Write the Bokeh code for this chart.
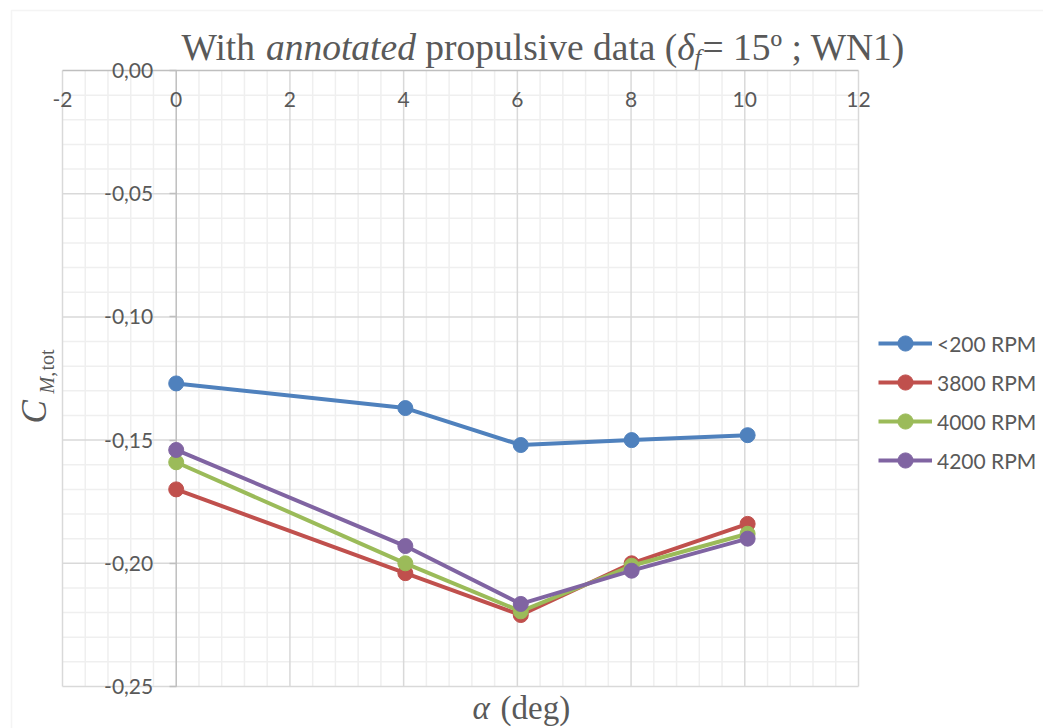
import numpy as np
from bokeh.plotting import figure
from bokeh.models import (Range1d, FixedTicker, Legend, LegendItem, Label, BoxAnnotation)
from bokeh.embed import file_html
from bokeh.resources import INLINE

# ---------------- data ----------------
series_names = ["<200 RPM", "3800 RPM", "4000 RPM", "4200 RPM"]
alpha_deg = [0.0, 4.03, 6.06, 8.01, 10.05]
cm_200 = [-0.127, -0.137, -0.152, -0.150, -0.148]
cm_3800 = [-0.170, -0.204, -0.221, -0.200, -0.184]
cm_4000 = [-0.159, -0.200, -0.2195, -0.201, -0.188]
cm_4200 = [-0.154, -0.193, -0.2165, -0.203, -0.190]
series_values = [cm_200, cm_3800, cm_4000, cm_4200]
colors = ["#4F81BD", "#C0504D", "#9BBB59", "#8064A2"]

x_ticks = [-2, 0, 2, 4, 6, 8, 10, 12]
x_tick_labels = ["-2", "0", "2", "4", "6", "8", "10", "12"]
x_minor_step = 0.4
y_ticks = [0.0, -0.05, -0.10, -0.15, -0.20, -0.25]
y_tick_labels = ["0,00", "-0,05", "-0,10", "-0,15", "-0,20", "-0,25"]
y_minor_step = 0.01

# ---------------- layout: plot area in page pixels ----------------
W, H = 1043, 728
FL, FT, FW, FH = 62, 70, 796, 616
XMIN, XMAX, YMIN, YMAX = -2, 12, -0.25, 0.0


def X(px):
    return XMIN + (px - FL) * (XMAX - XMIN) / FW


def Y(py):
    return YMAX - (py - FT) * (YMAX - YMIN) / FH


# the frame covers the whole page so nothing gets clipped
p = figure(width=W, height=H, title=None,
           x_range=Range1d(X(0), X(W)), y_range=Range1d(Y(H), Y(0)),
           output_backend="svg", toolbar_location=None,
           min_border=0, min_border_left=0, min_border_right=0,
           min_border_top=0, min_border_bottom=0,
           background_fill_color="white", border_fill_color="white")
p.outline_line_color = None
p.xgrid.visible = False
p.ygrid.visible = False

# ---------------- grid lines (drawn through the scales) ----------------
x_minor = [v for v in np.round(np.arange(XMIN, XMAX + 1e-9, x_minor_step), 4) if v not in x_ticks]
y_minor = [v for v in np.round(np.arange(YMIN, YMAX + 1e-9, y_minor_step), 4)
           if min(abs(v - t) for t in y_ticks) > 1e-9]

minor_c, major_c, axis_c = "#efefef", "#d9d9d9", "#bfbfbf"
p.segment(x0=x_minor, x1=x_minor, y0=[YMIN] * len(x_minor), y1=[YMAX] * len(x_minor),
          line_color=minor_c, line_width=1.5)
p.segment(x0=[XMIN] * len(y_minor), x1=[XMAX] * len(y_minor), y0=y_minor, y1=y_minor,
          line_color=minor_c, line_width=1.5)
xm = [t for t in x_ticks if t != 0]
ym = [t for t in y_ticks if t != 0]
p.segment(x0=xm, x1=xm, y0=[YMIN] * len(xm), y1=[YMAX] * len(xm),
          line_color=major_c, line_width=1.5)
p.segment(x0=[XMIN] * len(ym), x1=[XMAX] * len(ym), y0=ym, y1=ym,
          line_color=major_c, line_width=1.5)
# axis lines crossing at zero
p.segment(x0=[0, XMIN], x1=[0, XMAX], y0=[YMIN, 0], y1=[YMAX, 0],
          line_color=axis_c, line_width=1.5)

# ---------------- axes ----------------
p.xaxis.fixed_location = 0
p.yaxis.fixed_location = 0
p.xaxis.bounds = (XMIN, XMAX)
p.yaxis.bounds = (YMIN, YMAX)
p.xaxis.ticker = FixedTicker(ticks=x_ticks, minor_ticks=[])
p.yaxis.ticker = FixedTicker(ticks=y_ticks, minor_ticks=[])
p.xaxis.major_label_overrides = {t: l for t, l in zip(x_ticks, x_tick_labels)}
p.yaxis.major_label_overrides = {t: l for t, l in zip(y_ticks, y_tick_labels)}

for ax in (p.xaxis, p.yaxis):
    ax.axis_line_color = None
    ax.major_tick_line_color = axis_c
    ax.major_tick_line_width = 1.5
    ax.minor_tick_in = 0
    ax.minor_tick_out = 0
    ax.major_label_text_font = "Lato"
    ax.major_label_text_font_size = "21px"
    ax.major_label_text_color = "#595959"

p.xaxis.major_tick_in = 0
p.xaxis.major_tick_out = 0
p.xaxis.major_label_standoff = 21
p.yaxis.major_tick_in = 0
p.yaxis.major_tick_out = 7
p.yaxis.major_label_standoff = 16

# ---------------- series ----------------
items = []
for name, vals, c in zip(series_names, series_values, colors):
    ln = p.line(alpha_deg, vals, line_color=c, line_width=4)
    sc = p.scatter(alpha_deg, vals, size=15, fill_color=c, line_color=c)
    items.append(LegendItem(label=name, renderers=[ln, sc]))

legend = Legend(items=items, location=(878, 249))
legend.glyph_width = 54
legend.glyph_height = 38
legend.label_height = 20
legend.spacing = 1
legend.label_standoff = 5
legend.padding = 0
legend.margin = 0
legend.border_line_color = None
legend.background_fill_alpha = 0
legend.label_text_font = "Lato"
legend.label_text_font_size = "21px"
legend.label_text_color = "#595959"
p.add_layout(legend, "center")

# ---------------- outer chart border ----------------
p.add_layout(BoxAnnotation(left=X(11), right=X(1100), top=Y(10), bottom=Y(800),
                           fill_alpha=0, line_color="#d9d9d9", line_width=1.5))

# ---------------- title and axis titles (rich text via labels) ----------------
serif = "Liberation Serif"
tc = "#595959"
tb = 47


def lab(text, px, py, size, style="normal", angle=0.0):
    p.add_layout(Label(x=X(px), y=Y(py), text=text, text_font=serif,
                       text_font_size=size, text_font_style=style,
                       text_color=tc, text_align="left",
                       text_baseline="alphabetic", angle=angle))


lab("With", 181, tb, "37.5px")
lab("annotated", 265.4, tb, "37.5px", "italic")
lab("propulsive data (", 424.8, tb, "37.5px")
lab("δ", 676.8, tb, "37.5px", "italic")
lab("f", 694.0, tb + 9, "24px", "italic")
lab("= 15º ; WN1)", 702.0, tb, "37.5px")

# x-axis title
lab("α", 472, 707, "33px", "italic")
lab("(deg)", 500, 707, "33px")

# y-axis title (rotated)
lab("C", 34, 423, "35px", "italic", np.pi / 2)
lab("M,", 46, 393, "20px", "italic", np.pi / 2)
lab("tot", 46, 370, "20px", "normal", np.pi / 2)

open("out.html", "w").write(file_html(p, INLINE))
